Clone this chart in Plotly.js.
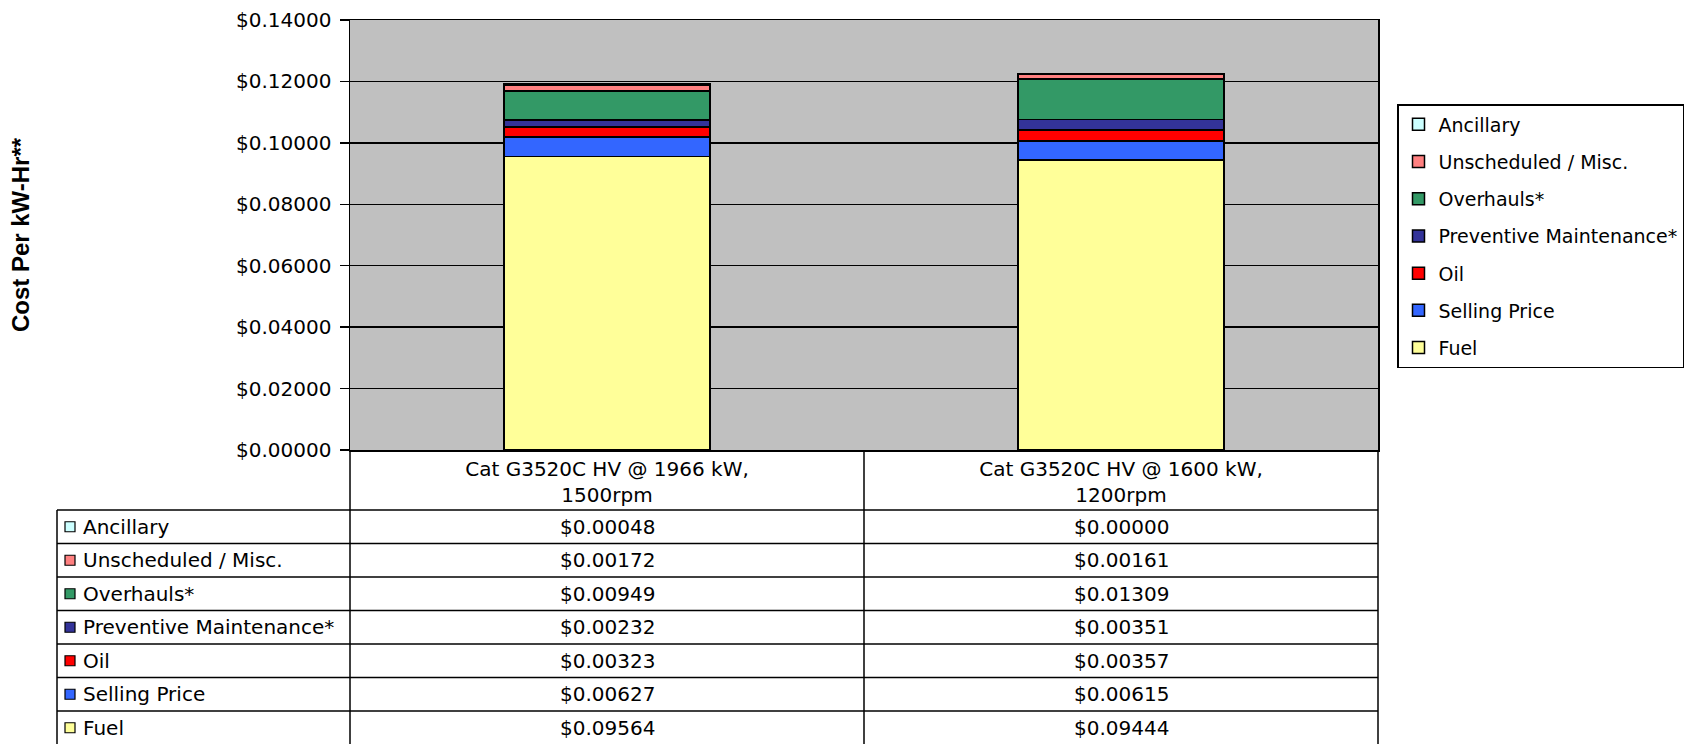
<!DOCTYPE html>
<html>
<head>
<meta charset="utf-8">
<script src="https://cdn.plot.ly/plotly-3.0.1.min.js"></script>
<style>
  html, body { margin: 0; padding: 0; background: #ffffff; }
  #chart { width: 1692px; height: 744px; }
</style>
</head>
<body>
<div id="chart"></div>
<script>
// ---------- data ----------
const categories = ['Cat G3520C HV @ 1966 kW,<br>1500rpm', 'Cat G3520C HV @ 1600 kW,<br>1200rpm'];
const seriesNames = ['Fuel', 'Selling Price', 'Oil', 'Preventive Maintenance*', 'Overhauls*', 'Unscheduled / Misc.', 'Ancillary'];
const fuel = [0.09564, 0.09444];
const sellingPrice = [0.00627, 0.00615];
const oil = [0.00323, 0.00357];
const preventiveMaintenance = [0.00232, 0.00351];
const overhauls = [0.00949, 0.01309];
const unscheduledMisc = [0.00172, 0.00161];
const ancillary = [0.00048, 0.00000];
const yTickValues = [0, 0.02, 0.04, 0.06, 0.08, 0.10, 0.12, 0.14];
const yTickLabels = yTickValues.map(v => '$' + v.toFixed(5));

// ---------- styles ----------
const seriesValues = [fuel, sellingPrice, oil, preventiveMaintenance, overhauls, unscheduledMisc, ancillary];
const seriesColors = ['#FFFF99', '#3366FF', '#FF0000', '#333399', '#339966', '#FF8080', '#CCFFFF'];
const FONT = 'DejaVu Sans, Liberation Sans, Arial, sans-serif';
const FS = 20;

// page geometry (pixels)
const W = 1692, H = 744;
const PL = 350, PR = 1378, PT = 20, PB = 450;
const px2x = p => (p - PL) / (PR - PL);
const px2y = p => (PB - p) / (PB - PT);

// ---------- traces ----------
const traces = seriesNames.map((name, i) => ({
  type: 'bar',
  name: name,
  x: categories,
  y: seriesValues[i],
  legendgroup: 'g' + i,
  legendrank: (seriesNames.length - i) * 10,
  marker: { color: seriesColors[i], line: { color: '#000000', width: 1.5 } },
  hoverinfo: 'skip'
}));

// ---------- data table (shapes + annotations) ----------
const shapes = [];
const annotations = [];
const tableLeft = 57, headerBottom = 510, rowH = 33.5, colMid = 864;
const line = (x0, y0, x1, y1) => ({
  type: 'line', xref: 'paper', yref: 'paper',
  x0: px2x(x0), y0: px2y(y0), x1: px2x(x1), y1: px2y(y1),
  line: { color: '#000000', width: 1.5 }
});
// vertical lines
shapes.push(line(PL, PB, PL, H + 2));
shapes.push(line(colMid, PB, colMid, H + 2));
shapes.push(line(PR, PB, PR, H + 2));
shapes.push(line(tableLeft, headerBottom, tableLeft, H + 2));
// horizontal lines
for (let r = 0; r < seriesNames.length; r++) {
  const y = headerBottom + r * rowH;
  shapes.push(line(tableLeft, y, PR, y));
}
const colCenters = [(PL + colMid) / 2, (colMid + PR) / 2];
// rows: top = last series
const rowOrder = seriesNames.map((_, i) => seriesNames.length - 1 - i);
rowOrder.forEach((si, r) => {
  const yc = headerBottom + r * rowH + rowH / 2;
  shapes.push({
    type: 'rect', xref: 'paper', yref: 'paper',
    x0: px2x(65), x1: px2x(75), y0: px2y(yc - 5), y1: px2y(yc + 5),
    fillcolor: seriesColors[si], line: { color: '#000000', width: 1.2 }
  });
  annotations.push({
    xref: 'paper', yref: 'paper', x: px2x(81), y: px2y(yc),
    xanchor: 'left', yanchor: 'middle', showarrow: false,
    text: seriesNames[si], font: { family: FONT, size: FS, color: '#000000' }
  });
  seriesValues[si].forEach((v, c) => {
    annotations.push({
      xref: 'paper', yref: 'paper', x: px2x(colCenters[c]), y: px2y(yc),
      xanchor: 'center', yanchor: 'middle', showarrow: false,
      text: '$' + v.toFixed(5), font: { family: FONT, size: FS, color: '#000000' }
    });
  });
});

// ---------- layout ----------
const layout = {
  width: W, height: H,
  margin: { l: PL, r: W - PR, t: PT, b: H - PB, pad: 0, autoexpand: false },
  paper_bgcolor: '#FFFFFF',
  plot_bgcolor: '#C0C0C0',
  barmode: 'stack',
  bargap: 0.6,
  font: { family: FONT, size: FS, color: '#000000' },
  showlegend: true,
  legend: {
    x: px2x(1397), y: px2y(104), xanchor: 'left', yanchor: 'top',
    bordercolor: '#000000', borderwidth: 1.5, bgcolor: '#FFFFFF',
    traceorder: 'grouped', tracegroupgap: 9.5,
    font: { family: FONT, size: 19, color: '#000000' },
    itemwidth: 30
  },
  xaxis: {
    type: 'category',
    showgrid: false, zeroline: false,
    showline: true, linecolor: '#000000', linewidth: 1.5, mirror: true,
    ticks: '', tickfont: { family: FONT, size: FS, color: '#000000' },
    automargin: false, fixedrange: true
  },
  yaxis: {
    range: [0, 0.14], tickvals: yTickValues, ticktext: yTickLabels,
    showgrid: true, gridcolor: '#000000', gridwidth: 1.5,
    zeroline: false,
    showline: true, linecolor: '#000000', linewidth: 1.5, mirror: true,
    ticks: 'outside', ticklen: 9, tickwidth: 1.5, tickcolor: '#000000',
    ticklabelstandoff: 4,
    tickfont: { family: FONT, size: FS, color: '#000000' },
    title: { text: 'Cost Per kW-Hr**', standoff: 199, font: { family: 'Liberation Sans, Arial, sans-serif', size: 24, color: '#000000', weight: 'bold' } },
    automargin: false, fixedrange: true
  },
  shapes: shapes,
  annotations: annotations
};

Plotly.newPlot('chart', traces, layout, { displayModeBar: false, staticPlot: true });
</script>
</body>
</html>
